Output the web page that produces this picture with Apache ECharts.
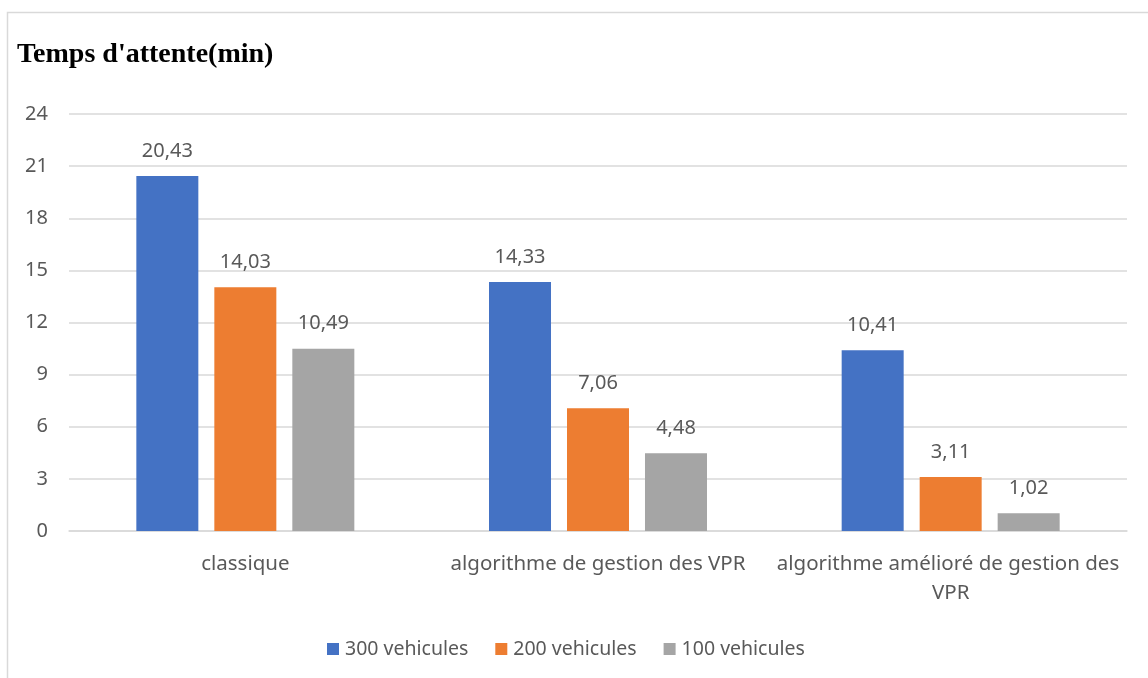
<!DOCTYPE html>
<html>
<head>
<meta charset="utf-8">
<script src="https://cdn.jsdelivr.net/npm/echarts@6/dist/echarts.min.js"></script>
<style>
  html, body { margin: 0; padding: 0; background: #fff; }
  #chart { width: 1148px; height: 678px; }
</style>
</head>
<body>
<div id="chart"></div>
<script>
// Waiting time (minutes) per management strategy and traffic load
const categories = ['classique', 'algorithme de gestion des VPR', 'algorithme amélioré de gestion des VPR'];
const seriesNames = ['300 vehicules', '200 vehicules', '100 vehicules'];
const values300 = [20.43, 14.33, 10.41];
const values200 = [14.03, 7.06, 3.11];
const values100 = [10.49, 4.48, 1.02];
const yTicks = { min: 0, max: 24, interval: 3 };

const colors = ['#4472C4', '#ED7D31', '#A5A5A5'];
const textColor = '#595959';
const gridColor = '#D9D9D9';
const sansFont = '"Noto Sans", "Open Sans", sans-serif';

const fmt = v => v.toFixed(2).replace('.', ',');

function barSeries(name, data, color) {
  return {
    name: name,
    type: 'bar',
    data: data,
    barWidth: 62,
    barGap: '25.8%',
    itemStyle: { color: color },
    label: {
      show: true,
      position: 'top',
      distance: 15,
      color: textColor,
      fontFamily: sansFont,
      fontSize: 20,
      formatter: p => fmt(p.value)
    }
  };
}

const chart = echarts.init(document.getElementById('chart'), null, { renderer: 'canvas' });
chart.setOption({
  animation: false,
  backgroundColor: '#fff',
  graphic: [{
    type: 'polyline',
    shape: { points: [[7.5, 700], [7.5, 12.5], [1160, 12.5]] },
    style: { stroke: gridColor, lineWidth: 1.5, fill: null },
    silent: true
  }],
  title: {
    text: "Temps d'attente(min)",
    left: 12,
    top: 36,
    textStyle: {
      fontFamily: '"Liberation Serif", "DejaVu Serif", serif',
      fontWeight: 'bold',
      fontSize: 28,
      color: '#000'
    }
  },
  legend: {
    data: seriesNames,
    left: 322,
    top: 634,
    itemWidth: 12,
    itemHeight: 12,
    itemGap: 27,
    icon: 'rect',
    textStyle: { color: textColor, fontFamily: sansFont, fontSize: 19.5, padding: [0, 0, 0, 1] }
  },
  grid: { left: 69, right: 21, top: 114, bottom: 147, containLabel: false },
  xAxis: {
    type: 'category',
    data: categories,
    axisLine: { show: true, lineStyle: { color: gridColor, width: 1.5 } },
    axisTick: { show: false },
    axisLabel: {
      color: textColor,
      fontFamily: sansFont,
      fontSize: 20.5,
      margin: 19,
      lineHeight: 29,
      width: 370,
      overflow: 'break',
      interval: 0
    }
  },
  yAxis: {
    type: 'value',
    min: yTicks.min,
    max: yTicks.max,
    interval: yTicks.interval,
    axisLine: { show: false },
    axisTick: { show: false },
    splitLine: { lineStyle: { color: gridColor, width: 1.5 } },
    axisLabel: { color: textColor, fontFamily: sansFont, fontSize: 20, margin: 21 }
  },
  series: [
    barSeries(seriesNames[0], values300, colors[0]),
    barSeries(seriesNames[1], values200, colors[1]),
    barSeries(seriesNames[2], values100, colors[2])
  ]
});
</script>
</body>
</html>
